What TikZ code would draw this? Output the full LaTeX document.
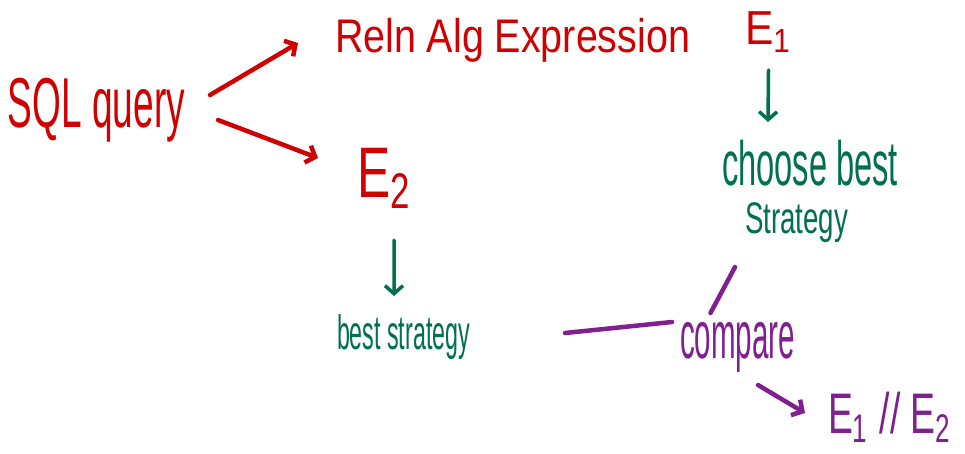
\documentclass[tikz,border=0pt]{standalone}
\usepackage{fontspec}
\setmainfont{Liberation Sans}
\usepackage{graphicx}
\usetikzlibrary{arrows.meta}
\definecolor{inkred}{RGB}{208,0,0}
\definecolor{inkgreen}{RGB}{0,112,80}
\definecolor{inkpurple}{RGB}{128,32,144}
\newcommand{\fitto}[3]{\resizebox*{#1pt}{#2pt}{#3}}
\begin{document}
\begin{tikzpicture}[x=1pt,y=-1pt,
  txt/.style={anchor=north west,inner sep=0pt,outer sep=0pt},
  ink/.style={line width=4.5pt,line cap=round,line join=round},
  barb/.style={-{Straight Barb[length=8pt,width=18pt]}}]
\fill[white] (0,0) rectangle (965,453);
\useasboundingbox (0,0) rectangle (965,453);
% text nodes
\node[txt,text=inkred] (sql) at (8,78) {\fitto{177}{64}{SQL query}};
\node[txt,text=inkred] (reln) at (335,18) {\fitto{355}{44}{Reln Alg Expression}};
\node[txt,text=inkred] (e1) at (745,12) {\fitto{47}{40}{E\textsubscript{1}}};
\node[txt,text=inkred] (e2) at (357,148) {\fitto{55}{60}{E\textsubscript{2}}};
\node[txt,text=inkgreen] (choose) at (722,140) {\fitto{176}{46}{choose best}};
\node[txt,text=inkgreen] (strat) at (745,203) {\fitto{103}{40}{Strategy}};
\node[txt,text=inkgreen] (best) at (337,315) {\fitto{133}{45}{best strategy}};
\node[txt,text=inkpurple] (cmp) at (680,322) {\fitto{115}{50}{compare}};
\node[txt,text=inkpurple] (res) at (828,392) {\fitto{124}{50}{E\textsubscript{1} // E\textsubscript{2}}};
% connectors
\draw[ink,barb,inkred] ([shift={(25,-15)}]sql.east) -- ([shift={(-37,3)}]reln.west);
\draw[ink,barb,inkred] ([shift={(33,10)}]sql.east) -- ([shift={(-39,-20)}]e2.west);
\draw[ink,barb,inkgreen,line width=3.5pt] ([shift={(0,18)}]e1.south) -- ([shift={(-42,-18)}]choose.north);
\draw[ink,barb,inkgreen,line width=3.5pt] ([shift={(9.5,32)}]e2.south) -- ([shift={(-9.5,-19)}]best.north);
\draw[ink,inkpurple] ([shift={(95,-4.5)}]best.east) -- ([shift={(-8,-25)}]cmp.west);
\draw[ink,inkpurple] ([shift={(-27,-9)}]cmp.north) -- ([shift={(-61.5,24)}]strat.south);
\draw[ink,barb,inkpurple] ([shift={(20.5,13)}]cmp.south) -- ([shift={(-23,-4)}]res.west);
\end{tikzpicture}
\end{document}
